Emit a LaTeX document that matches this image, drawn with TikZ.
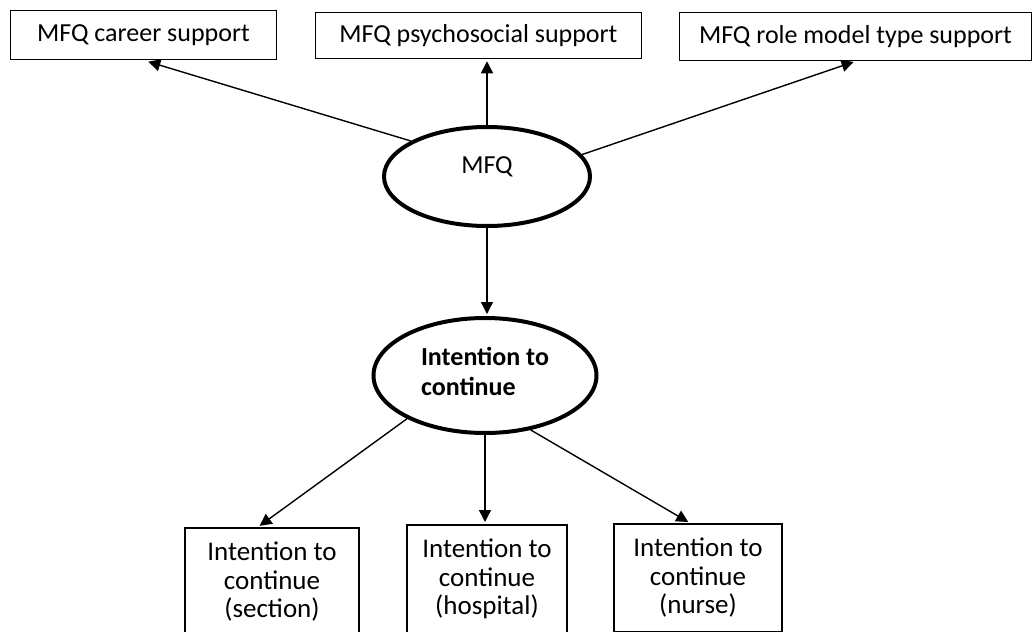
\documentclass[tikz,border=0pt]{standalone}
\usepackage{fontspec}
\setmainfont{Carlito}
\usetikzlibrary{arrows.meta,shapes.geometric}

\tikzset{
  box/.style={draw,line width=0.75pt,inner sep=0pt,text height=0.66em,text depth=0pt,
    font=\fontsize{13}{15}\selectfont},
  latent/.style={draw,ellipse,line width=2pt,inner sep=0pt},
  outcome/.style={draw,line width=0.75pt,anchor=north,align=center,inner xsep=0pt,
    inner ysep=7pt,font=\fontsize{13.5}{14.3}\selectfont},
  effect/.style={-{Triangle[length=6pt,width=6pt]},line width=0.7pt,shorten >=1pt}
}

\begin{document}
\begin{tikzpicture}[x=0.5pt,y=-0.5pt]
\useasboundingbox (0,0) rectangle (1035,632);
\clip (0,0) rectangle (1035,632);
% indicators of MFQ
\node[box,minimum width=133pt,minimum height=24.5pt] (career) at (143.5,35) {MFQ career support};
\node[box,minimum width=163pt,minimum height=23pt] (psych) at (478.5,35.5) {MFQ psychosocial support};
\node[box,minimum width=176pt,minimum height=24pt] (role) at (855.5,36.5) {MFQ role model type support};
% latent variables
\node[latent,minimum width=103pt,minimum height=49.5pt,
      label={[yshift=5pt,font=\fontsize{13}{15}\selectfont]center:MFQ}] (mfq) at (487,176.5) {};
\node[latent,minimum width=111.5pt,minimum height=57.5pt,
      label={[yshift=2pt,align=left,font=\fontsize{13}{15}\selectfont\bfseries]center:Intention to\\continue}] (intent) at (485,375.5) {};
% indicators of intention
\node[outcome,minimum width=87pt] (sect) at (272,527) {Intention to\\continue\\(section)};
\node[outcome,minimum width=80pt] (hosp) at (487,524) {Intention to\\continue\\(hospital)};
\node[outcome,minimum width=84pt] (nurse) at (698,523) {Intention to\\continue\\(nurse)};
% arrows
\draw[effect,shorten >=2.5pt] (mfq.155) -- (career.south);
\draw[effect] (mfq.north) -- (mfq.north |- psych.south);
\draw[effect] (mfq.13) -- (role.south);
\draw[effect] (mfq.south) -- (mfq.south |- intent.north);
\draw[effect] (intent.209) -- ([xshift=-7pt]sect.north);
\draw[effect] (intent.south) -- (intent.south |- hosp.north);
\draw[effect] (intent.310) -- ([xshift=-4pt]nurse.north);
\end{tikzpicture}
\end{document}
